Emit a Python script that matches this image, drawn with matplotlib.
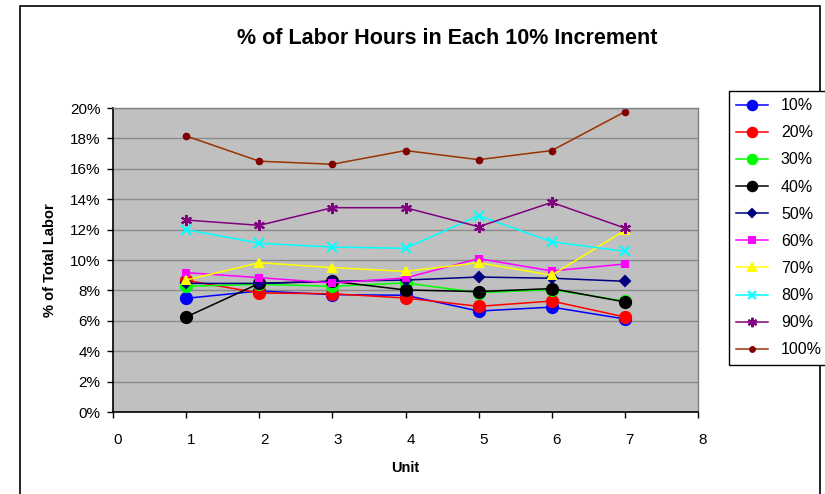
import matplotlib
matplotlib.use("Agg")
import matplotlib.pyplot as plt
from matplotlib.patches import Rectangle
from matplotlib.ticker import FuncFormatter, MultipleLocator
from matplotlib.transforms import ScaledTranslation

plt.rcParams["font.family"] = ["Liberation Sans", "DejaVu Sans"]

units = [1, 2, 3, 4, 5, 6, 7]
labels = ["10%", "20%", "30%", "40%", "50%", "60%", "70%", "80%", "90%", "100%"]

p10  = [7.48, 7.96, 7.72, 7.68, 6.64, 6.90, 6.12]
p20  = [8.66, 7.83, 7.78, 7.50, 6.95, 7.30, 6.25]
p30  = [8.27, 8.40, 8.27, 8.49, 7.85, 8.05, 7.30]
p40  = [6.25, 8.46, 8.60, 8.03, 7.92, 8.12, 7.24]
p50  = [8.46, 8.46, 8.60, 8.68, 8.88, 8.80, 8.60]
p60  = [9.17, 8.84, 8.49, 8.82, 10.09, 9.28, 9.74]
p70  = [8.68, 9.82, 9.50, 9.25, 9.82, 9.00, 11.95]
p80  = [12.00, 11.10, 10.85, 10.77, 12.92, 11.20, 10.57]
p90  = [12.63, 12.28, 13.44, 13.44, 12.19, 13.79, 12.10]
p100 = [18.16, 16.50, 16.30, 17.20, 16.60, 17.20, 19.75]

series = [p10, p20, p30, p40, p50, p60, p70, p80, p90, p100]

# (line colour, marker, marker colour, marker size)
styles = [
    ("#0000FF", "o", "#0000FF", 8),
    ("#FF0000", "o", "#FF0000", 8),
    ("#00FF00", "o", "#00FF00", 8),
    ("#000000", "o", "#000000", 8),
    ("#000080", "D", "#000080", 5),
    ("#FF00FF", "s", "#FF00FF", 5),
    ("#FFFF00", "^", "#FFFF00", 6),
    ("#00FFFF", "x", "#00FFFF", 7),
    ("#800080", (6, 2, 0), "#800080", 8),
    ("#993300", "o", "#800000", 4),
]

fig = plt.figure(figsize=(8.25, 4.94), dpi=100)
fig.patch.set_facecolor("white")

# outer chart border
fig.patches.append(Rectangle((20 / 825, -0.1), 800 / 825, 1.1 - 6 / 494,
                             transform=fig.transFigure, fill=False,
                             edgecolor="black", linewidth=1.2))

ax = fig.add_axes([113 / 825, 82 / 494, 585 / 825, 304 / 494])
ax.set_facecolor("#C0C0C0")

for vals, lab, (lc, mk, mc, ms) in zip(series, labels, styles):
    ax.plot(units, vals, color=lc, marker=mk, markersize=ms,
            markerfacecolor=mc, markeredgecolor=mc, markeredgewidth=1.5,
            linewidth=1.1, label=lab)

ax.set_xlim(0, 8)
ax.set_ylim(0, 20)
ax.xaxis.set_major_locator(MultipleLocator(1))
ax.yaxis.set_major_locator(MultipleLocator(2))
ax.yaxis.set_major_formatter(FuncFormatter(lambda v, _: f"{v:.0f}%"))
ax.grid(axis="y", color="#8A8A8A", linewidth=1.0)
ax.set_axisbelow(True)
ax.tick_params(direction="out", length=4, width=1, labelsize=11)
ax.tick_params(axis="y", pad=5)
ax.tick_params(axis="x", pad=11)

# Excel puts the x labels a few pixels right of the tick
shift = ScaledTranslation(5 / 100, 0, fig.dpi_scale_trans)
for lbl in ax.get_xticklabels():
    lbl.set_transform(lbl.get_transform() + shift)

for s in ["top", "right"]:
    ax.spines[s].set_color("#808080")
    ax.spines[s].set_linewidth(1.0)
for s in ["left", "bottom"]:
    ax.spines[s].set_color("black")
    ax.spines[s].set_linewidth(1.2)

ax.set_xlabel("Unit", fontsize=10.5, fontweight="bold", labelpad=10)
ax.set_ylabel("% of Total Labor", fontsize=10.5, fontweight="bold", labelpad=9)

fig.text(447 / 825, 1 - 38 / 494, "% of Labor Hours in Each 10% Increment",
         ha="center", va="center", fontsize=15.5, fontweight="bold")

leg = fig.legend(loc="upper left", bbox_to_anchor=(729 / 825, 1 - 91 / 494),
                 fontsize=11.5, frameon=True, fancybox=False, edgecolor="black",
                 framealpha=1, labelspacing=0.76, handlelength=2.0,
                 borderpad=0.45, handletextpad=0.8, borderaxespad=0,
                 markerscale=0.85)
leg.get_frame().set_linewidth(1.0)

plt.savefig("out.png", dpi=100)
